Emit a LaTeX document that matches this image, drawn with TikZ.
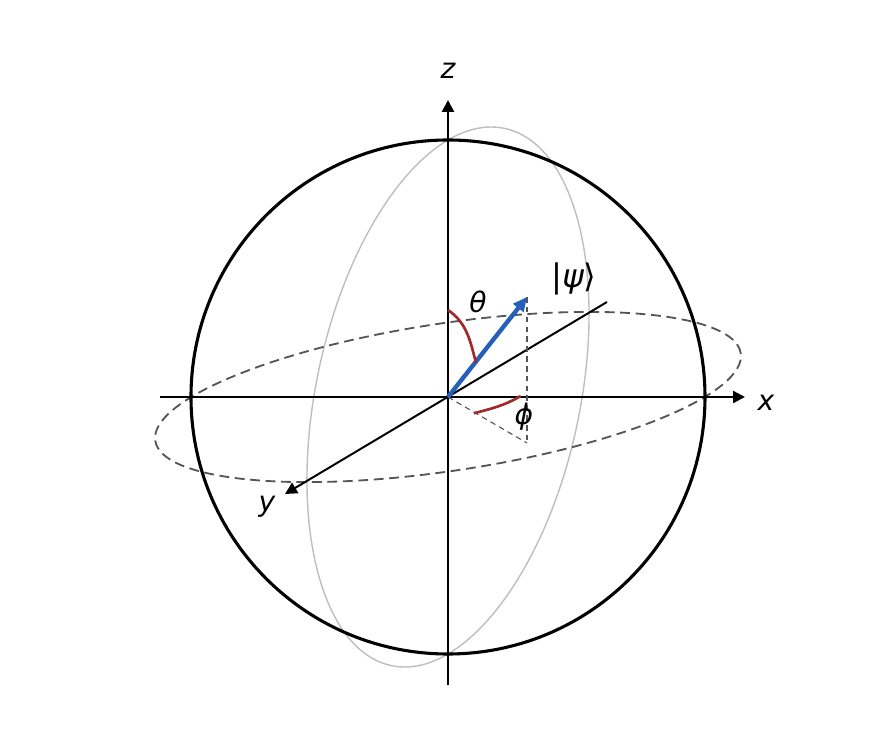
\documentclass[tikz,border=0pt]{standalone}
\usepackage{fontspec}
\setmainfont{DejaVu Sans}
\usetikzlibrary{arrows.meta,positioning}
\definecolor{statecol}{RGB}{36,96,186}
\definecolor{anglecol}{RGB}{158,42,42}
\definecolor{eqcol}{RGB}{85,85,85}
\definecolor{mercol}{RGB}{190,190,190}

\begin{document}
\begin{tikzpicture}[x=0.025cm,y=0.025cm,>={Triangle[length=8.5pt,width=8.5pt]},thick]
\tikzstyle{axis}=[line width=1.7pt,black]
\tikzstyle{lbl}=[font=\fontsize{20}{22}\selectfont\itshape,inner sep=1pt]
\tikzstyle{proj}=[dashed,eqcol,line width=0.8pt,dash pattern=on 4pt off 3pt]
\tikzstyle{angle}=[anglecol,line width=1.9pt]

\useasboundingbox (-448,-346) rectangle (448,397);

\coordinate (O)  at (0,0);
\coordinate (xs) at (-288,0);
\coordinate (xe) at (297,0);
\coordinate (zs) at (0,-288);
\coordinate (ze) at (0,297);
\coordinate (ys) at (159,95);
\coordinate (ye) at (-163,-97);
\coordinate (psi) at (79,100);
\coordinate (foot) at (79,-46);
\coordinate (t1) at (0,87);
\coordinate (t2) at (28,34.3);
\coordinate (p1) at (26,-16.3);
\coordinate (p2) at (72.7,1);

% sphere and great circles
\draw[mercol,line width=1pt,rotate=78.1] (O) ellipse (274.5 and 132);
\draw[eqcol,line width=1.3pt,dash pattern=on 7pt off 4pt,rotate=8.5] (O) ellipse (296 and 73.8);
\draw[line width=2.2pt] (O) circle (257);

% axes
\draw[axis,->] (xs) -- (xe);
\draw[axis,->] (zs) -- (ze);
\draw[line width=1.4pt,->] (ys) -- (ye);

% projections
\draw[proj] (psi) -- (foot);
\draw[proj] (O) -- (foot);

% state vector
\draw[statecol,line width=3.1pt,-{Triangle[length=10pt,width=9pt]}] (O) -- (psi);

% angles
\draw[angle] (t1) to[out=-35,in=105] (t2);
\draw[angle] (p1) to[out=15,in=-150] (p2);

% labels
\node[lbl] (zl) at (0,326) {z};
\node[lbl] (xl) at (318,-6) {x};
\node[lbl] (yl) at (-181,-110) {y};
\node[lbl] (th) at (30,95) {θ};
\node[lbl] (ph) at (76,-20) {ϕ};
\node[lbl,font=\fontsize{23}{25}\selectfont] (kt) at (126,118) {|{\itshape ψ}⟩};
\end{tikzpicture}
\end{document}
